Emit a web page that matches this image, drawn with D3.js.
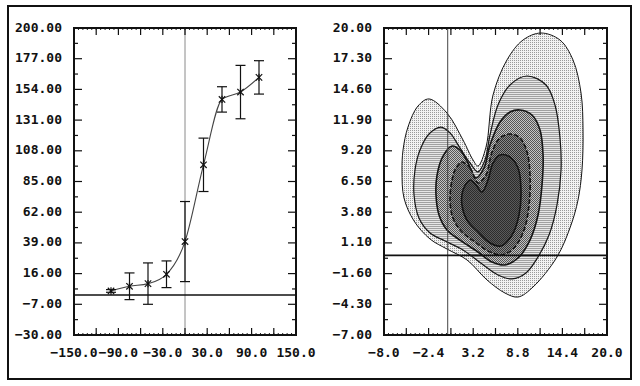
<!DOCTYPE html>
<html><head><meta charset="utf-8">
<script src="https://cdn.jsdelivr.net/npm/d3@7"></script>
<style>
html,body{margin:0;padding:0;background:#fff;}
text{font-family:"DejaVu Sans Mono",monospace;font-weight:bold;font-size:13px;fill:#111;}
</style></head>
<body>
<svg id="c" width="640" height="386"></svg>
<script>
// ---------- data ----------
const leftX   = [-100, -75, -50, -25, 0, 25, 50, 75, 100];
const leftY   = [3, 6.5, 8.5, 15.5, 40, 97.5, 146.5, 152, 163];
const leftErr = [1, 10, 15.5, 10, 30, 20, 9.5, 20, 12.5];

const leftXTicks  = [-150, -90, -30, 30, 90, 150];
const leftYTicks  = [-30, -7, 16, 39, 62, 85, 108, 131, 154, 177, 200];
const rightXTicks = [-8, -2.4, 3.2, 8.8, 14.4, 20];
const rightYTicks = [-7, -4.3, -1.6, 1.1, 3.8, 6.5, 9.2, 11.9, 14.6, 17.3, 20];

// contour levels (outermost first), data units
const contour1 = [[-2.35,13.76],[-0.09,12.52],[1.92,10.15],[3.18,8.39],[3.8,7.86],[4.81,9.53],[5.69,14.11],[7.44,17.19],[9.45,18.94],[11.71,19.56],[14.1,18.94],[15.73,17.19],[16.74,14.28],[16.99,11.03],[16.86,7.51],[16.36,4.87],[15.48,2.67],[13.72,-0.14],[10.71,-2.78],[8.83,-3.66],[7.19,-3.31],[4.93,-2.16],[2.42,-0.4],[-0.09,0.56],[-2.22,1.44],[-4.23,3.03],[-5.49,5.05],[-5.74,7.42],[-5.61,9.27],[-4.99,11.29],[-3.73,13.14]];
const contour2 = [[-0.84,11.29],[0.29,10.77],[1.54,9.45],[2.8,8.13],[3.8,7.34],[4.68,8.39],[5.31,10.59],[6.31,13.23],[7.82,14.99],[9.96,15.78],[12.34,14.99],[13.47,13.23],[14.1,10.33],[14.23,7.51],[13.72,4.43],[12.72,1.79],[11.34,-0.14],[9.83,-1.55],[8.07,-2.07],[6.31,-1.72],[4.31,-0.76],[1.92,0.48],[-0.34,1.27],[-2.22,1.97],[-3.61,3.29],[-4.23,5.31],[-4.11,7.51],[-3.48,9.27],[-2.35,10.68]];
const contour3 = [[0.54,9.62],[1.54,9.27],[2.55,8.13],[3.55,6.81],[4.56,7.69],[5.31,9.71],[6.57,11.73],[7.82,12.61],[9.08,12.79],[10.58,12.35],[11.59,11.03],[11.97,8.83],[11.84,6.19],[11.34,3.55],[10.33,1.35],[8.83,-0.23],[7.19,-0.84],[5.56,-0.58],[3.8,0.3],[1.54,1.35],[-0.09,2.23],[-1.09,3.55],[-1.47,5.31],[-1.34,7.07],[-0.59,8.74]];
const contour4 = [[1.79,8.21],[2.8,7.69],[3.8,6.37],[4.81,7.07],[5.56,9.09],[6.57,10.33],[7.82,10.68],[9.08,10.33],[9.96,9.09],[10.33,7.07],[10.21,4.43],[9.58,2.23],[8.32,0.65],[6.82,0.04],[5.31,0.3],[3.43,1.18],[1.79,2.06],[0.66,3.29],[0.29,4.87],[0.54,6.63],[1.04,7.69]];
const contour5 = [[2.8,6.63],[3.55,6.19],[4.31,5.58],[5.06,6.63],[5.69,8.13],[6.57,8.83],[7.82,8.65],[8.83,7.69],[9.2,5.75],[8.95,3.55],[8.07,1.79],[6.69,0.83],[5.31,1.09],[3.8,2.06],[2.42,3.11],[1.79,4.43],[1.92,5.75]];
const contours = [contour1, contour2, contour3, contour4, contour5];

// ---------- setup ----------
const svg = d3.select("#c");
svg.append("rect").attr("width",640).attr("height",386).attr("fill","#fff");

const defs = svg.append("defs");
function pat(id, bg, dots, col){
  const p = defs.append("pattern").attr("id",id).attr("patternUnits","userSpaceOnUse")
    .attr("width",2).attr("height",2);
  p.append("rect").attr("width",2).attr("height",2).attr("fill",bg);
  dots.forEach(d=>p.append("rect").attr("x",d[0]).attr("y",d[1]).attr("width",1).attr("height",1).attr("fill",col));
}
pat("p1","#f2f2f2",[[0,0]],"#9a9a9a");
pat("p2","#e6e6e6",[[0,0],[1,0]],"#a0a0a0");
pat("p3","#c4c4c4",[[0,0],[1,1]],"#555");
pat("p4","#8a8a8a",[[0,0],[1,1]],"#333");
pat("p5","#5a5a5a",[[0,0],[1,1]],"#2c2c2c");
const fills = ["url(#p1)","url(#p2)","url(#p3)","url(#p4)","url(#p5)"];
const strokeW = [1,1.2,1.6,1.6,1.6];
const dashes = [null,null,null,"5,2",null];

// outer frame
svg.append("rect").attr("x",8).attr("y",6).attr("width",623).attr("height",373)
  .attr("fill","none").attr("stroke","#111").attr("stroke-width",2);

const xL = d3.scaleLinear().domain([-150,150]).range([74,296]);
const yL = d3.scaleLinear().domain([-30,200]).range([335,28]);
const xR = d3.scaleLinear().domain([-8,20]).range([384,607]);
const yR = d3.scaleLinear().domain([-7,20]).range([335,28]);

function axes(x, y, xt, yt, xfmt, yfmt){
  const g = svg.append("g");
  const [x0,x1] = x.range(), [y0,y1] = y.range();
  // x ticks: long at labels and midpoints, tiny every tenth of a label step
  const xs = x.domain(), step = xt[1]-xt[0];
  const longX = [];
  xt.forEach((v,i)=>{ longX.push(v); if(i<xt.length-1) longX.push((v+xt[i+1])/2); });
  const tinyX = d3.range(xs[0], xs[1]+step/20, step/10);
  tinyX.forEach(v=>{
    g.append("line").attr("x1",x(v)).attr("x2",x(v)).attr("y1",y0).attr("y2",y0-2).attr("stroke","#222").attr("stroke-width",1);
    g.append("line").attr("x1",x(v)).attr("x2",x(v)).attr("y1",y1).attr("y2",y1+2).attr("stroke","#222").attr("stroke-width",1);
  });
  longX.forEach(v=>{
    g.append("line").attr("x1",x(v)).attr("x2",x(v)).attr("y1",y0).attr("y2",y0-7).attr("stroke","#111").attr("stroke-width",1.2);
    g.append("line").attr("x1",x(v)).attr("x2",x(v)).attr("y1",y1).attr("y2",y1+7).attr("stroke","#111").attr("stroke-width",1.2);
  });
  // y ticks
  yt.forEach((v,i)=>{
    [[x0,1],[x1,-1]].forEach(([xx,s])=>{
      g.append("line").attr("x1",xx).attr("x2",xx+s*8).attr("y1",y(v)).attr("y2",y(v)).attr("stroke","#111").attr("stroke-width",1.2);
      if(i<yt.length-1){
        const m=(v+yt[i+1])/2;
        g.append("line").attr("x1",xx).attr("x2",xx+s*4).attr("y1",y(m)).attr("y2",y(m)).attr("stroke","#111").attr("stroke-width",1.2);
      }
    });
  });
  // frame
  g.append("rect").attr("x",x0).attr("y",y1).attr("width",x1-x0).attr("height",y0-y1)
    .attr("fill","none").attr("stroke","#111").attr("stroke-width",2);
  // labels
  yt.forEach(v=>{
    g.append("text").attr("x",x0-12).attr("y",y(v)+3.5).attr("text-anchor","end").text(yfmt(v));
  });
  xt.forEach(v=>{
    g.append("text").attr("x",x(v)).attr("y",357).attr("text-anchor","middle").text(xfmt(v));
  });
}

// ---------- left plot ----------
svg.append("line").attr("x1",xL(0)).attr("x2",xL(0)).attr("y1",yL(200)).attr("y2",yL(-30))
  .attr("stroke","#8a8a8a").attr("stroke-width",1);
svg.append("line").attr("x1",xL(-150)).attr("x2",xL(150)).attr("y1",yL(0)).attr("y2",yL(0))
  .attr("stroke","#111").attr("stroke-width",1.6);

const pts = leftX.map((v,i)=>[v,leftY[i],leftErr[i]]);
svg.append("path").datum(pts)
  .attr("d", d3.line().x(d=>xL(d[0])).y(d=>yL(d[1])).curve(d3.curveMonotoneX))
  .attr("fill","none").attr("stroke","#444").attr("stroke-width",1.1);

const eb = svg.append("g").attr("stroke","#111").attr("stroke-width",1.2);
pts.forEach(d=>{
  const cx = xL(d[0]), t = yL(d[1]+d[2]), b = yL(d[1]-d[2]);
  eb.append("line").attr("x1",cx).attr("x2",cx).attr("y1",t).attr("y2",b);
  eb.append("line").attr("x1",cx-5).attr("x2",cx+5).attr("y1",t).attr("y2",t);
  eb.append("line").attr("x1",cx-5).attr("x2",cx+5).attr("y1",b).attr("y2",b);
  const cy = yL(d[1]), r = 3.2;
  eb.append("line").attr("x1",cx-r).attr("x2",cx+r).attr("y1",cy-r).attr("y2",cy+r);
  eb.append("line").attr("x1",cx-r).attr("x2",cx+r).attr("y1",cy+r).attr("y2",cy-r);
  eb.append("line").attr("x1",cx).attr("x2",cx).attr("y1",cy-r-0.5).attr("y2",cy+r+0.5);
});
axes(xL, yL, leftXTicks, leftYTicks, d3.format(".1f"), d3.format(".2f"));

// ---------- right plot ----------
const cline = d3.line().x(d=>xR(d[0])).y(d=>yR(d[1])).curve(d3.curveCatmullRomClosed.alpha(0.5));
contours.forEach((c,i)=>{
  svg.append("path").attr("d", cline(c)).attr("fill", fills[i])
    .attr("stroke","#151515").attr("stroke-width",strokeW[i])
    .attr("stroke-dasharray",dashes[i]);
});
svg.append("line").attr("x1",xR(0)).attr("x2",xR(0)).attr("y1",yR(20)).attr("y2",yR(-7))
  .attr("stroke","#444").attr("stroke-width",1);
svg.append("line").attr("x1",xR(-8)).attr("x2",xR(20)).attr("y1",yR(0)).attr("y2",yR(0))
  .attr("stroke","#111").attr("stroke-width",1.6);
axes(xR, yR, rightXTicks, rightYTicks, d3.format(".1f"), d3.format(".2f"));
</script>
</body></html>
